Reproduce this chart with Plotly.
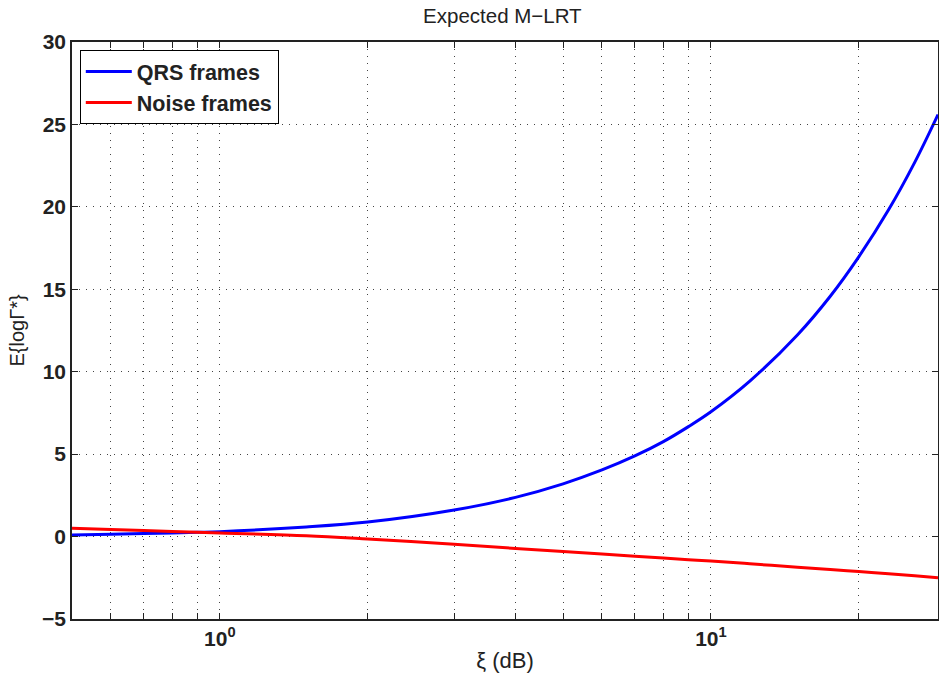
import numpy as np
import plotly.graph_objects as go

xi = [0.5, 0.6, 0.7, 0.8, 0.9, 1.0, 1.5, 2, 3, 4, 5, 6, 7, 8, 9, 10, 12, 15, 17.5, 20, 23, 26, 29]
qrs = [0.10, 0.14, 0.18, 0.22, 0.26, 0.30, 0.58, 0.88, 1.61, 2.38, 3.20, 4.04, 4.89, 5.76, 6.67, 7.57,
       9.43, 12.23, 14.58, 16.97, 19.82, 22.7, 25.6]
noise = [0.50, 0.43, 0.37, 0.31, 0.26, 0.22, 0.05, -0.15, -0.47, -0.72, -0.90, -1.05, -1.19, -1.30,
         -1.40, -1.48, -1.65, -1.86, -2.00, -2.12, -2.26, -2.38, -2.50]

x_grid = [0.6, 0.7, 0.8, 0.9, 1, 2, 3, 4, 5, 6, 7, 8, 9, 10, 20]
x_labels = {1: "10<sup>0</sup>", 10: "10<sup>1</sup>"}
y_ticks = [-5, 0, 5, 10, 15, 20, 25, 30]

fig = go.Figure()
fig.add_trace(go.Scatter(x=xi, y=qrs, mode="lines", name="QRS frames",
                         line=dict(color="#0000ff", width=3, shape="spline")))
fig.add_trace(go.Scatter(x=xi, y=noise, mode="lines", name="Noise frames",
                         line=dict(color="#ff0000", width=3, shape="spline")))

font_family = "Liberation Sans, Arial, Helvetica, sans-serif"

fig.update_layout(
    width=939, height=685,
    margin=dict(l=72, r=1, t=42, b=66, autoexpand=False),
    paper_bgcolor="white", plot_bgcolor="white",
    font=dict(family=font_family, color="#222222"),
    title=dict(text="Expected M\u2212LRT", x=0.535, xanchor="center", y=0.977, yanchor="middle",
               font=dict(size=20.5, color="#222222")),
    showlegend=True,
    legend=dict(x=0.009, y=0.986, xanchor="left", yanchor="top",
                bgcolor="white", bordercolor="black", borderwidth=1,
                font=dict(size=21.5, color="#222222", family=font_family, weight="bold"),
                tracegroupgap=0, itemwidth=46),
)

fig.update_xaxes(
    type="log", range=[np.log10(0.5), np.log10(29)], automargin=False,
    tickmode="array", tickvals=x_grid,
    ticktext=[x_labels.get(v, "") for v in x_grid],
    tickfont=dict(size=21, family=font_family, weight="bold", color="#222222"),
    showgrid=True, gridcolor="#444444", griddash="1px,6px", gridwidth=1,
    ticks="inside", ticklen=6, tickcolor="#222222",
    showline=True, linecolor="#222222", linewidth=1.5, mirror="ticks",
    zeroline=False,
    title=dict(text="\u03be (dB)", font=dict(size=22, color="#222222"), standoff=4),
)
fig.update_yaxes(
    range=[-5, 30], tickmode="array", tickvals=y_ticks, automargin=False,
    tickfont=dict(size=21, family=font_family, weight="bold", color="#222222"),
    showgrid=True, gridcolor="#444444", griddash="1px,6px", gridwidth=1,
    ticks="inside", ticklen=6, tickcolor="#222222",
    showline=True, linecolor="#222222", linewidth=1.5, mirror="ticks",
    zeroline=False,
    title=dict(text="E{log\u0393*}", font=dict(size=20, color="#222222"), standoff=12),
)

fig.write_html("out.html", config={"displayModeBar": False},
               post_script="document.body.style.margin='0';document.body.style.overflow='hidden';")
